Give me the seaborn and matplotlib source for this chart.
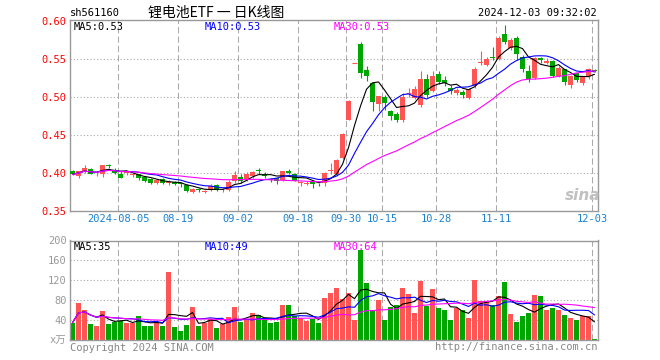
import numpy as np
import pandas as pd
import matplotlib.pyplot as plt
import seaborn as sns

# trading days 2024-07-24 .. 2024-12-03 (market holidays removed)
holidays = ['2024-09-16', '2024-09-17', '2024-10-01', '2024-10-02',
            '2024-10-03', '2024-10-04', '2024-10-07']
dates = pd.bdate_range('2024-07-24', '2024-12-03')
dates = dates[~dates.isin(pd.to_datetime(holidays))]

open_ = [0.402, 0.396, 0.401, 0.405, 0.398, 0.399, 0.410, 0.403, 0.399, 0.400,
         0.397, 0.398, 0.395, 0.392, 0.387, 0.392, 0.387, 0.388, 0.387, 0.384,
         0.375, 0.379, 0.375, 0.377, 0.384, 0.377, 0.378, 0.389, 0.395, 0.391,
         0.396, 0.404, 0.399, 0.392, 0.393, 0.391, 0.402, 0.399, 0.387, 0.386,
         0.389, 0.386, 0.387, 0.402, 0.399, 0.419, 0.470, 0.545, 0.569, 0.535,
         0.518, 0.490, 0.500, 0.481, 0.478, 0.469, 0.505, 0.499, 0.489, 0.524,
         0.508, 0.530, 0.522, 0.512, 0.505, 0.507, 0.498, 0.514, 0.545, 0.542,
         0.552, 0.550, 0.583, 0.564, 0.578, 0.553, 0.534, 0.525, 0.551, 0.545,
         0.547, 0.528, 0.536, 0.515, 0.531, 0.518, 0.527, 0.535]
high = [0.404, 0.403, 0.411, 0.406, 0.401, 0.411, 0.412, 0.406, 0.403, 0.402,
        0.400, 0.399, 0.396, 0.393, 0.392, 0.393, 0.391, 0.389, 0.388, 0.385,
        0.380, 0.380, 0.377, 0.386, 0.385, 0.380, 0.391, 0.402, 0.398, 0.401,
        0.402, 0.407, 0.401, 0.393, 0.394, 0.403, 0.405, 0.400, 0.389, 0.390,
        0.391, 0.387, 0.401, 0.413, 0.418, 0.453, 0.496, 0.545, 0.572, 0.540,
        0.520, 0.501, 0.502, 0.483, 0.480, 0.505, 0.512, 0.514, 0.534, 0.530,
        0.534, 0.534, 0.527, 0.515, 0.512, 0.509, 0.511, 0.539, 0.560, 0.552,
        0.566, 0.580, 0.594, 0.577, 0.580, 0.555, 0.542, 0.553, 0.552, 0.551,
        0.548, 0.540, 0.537, 0.529, 0.532, 0.528, 0.538, 0.536]
low = [0.397, 0.394, 0.400, 0.398, 0.396, 0.395, 0.406, 0.398, 0.393, 0.397,
       0.395, 0.391, 0.388, 0.386, 0.385, 0.385, 0.384, 0.384, 0.382, 0.375,
       0.373, 0.375, 0.374, 0.376, 0.376, 0.375, 0.376, 0.387, 0.387, 0.389,
       0.393, 0.399, 0.394, 0.388, 0.385, 0.389, 0.399, 0.389, 0.383, 0.384,
       0.380, 0.383, 0.383, 0.399, 0.397, 0.418, 0.469, 0.545, 0.525, 0.521,
       0.482, 0.482, 0.483, 0.469, 0.467, 0.467, 0.500, 0.497, 0.487, 0.500,
       0.506, 0.517, 0.514, 0.504, 0.502, 0.499, 0.497, 0.512, 0.542, 0.540,
       0.548, 0.549, 0.570, 0.561, 0.548, 0.533, 0.520, 0.523, 0.544, 0.543,
       0.526, 0.526, 0.515, 0.511, 0.520, 0.515, 0.524, 0.533]
close = [0.398, 0.402, 0.407, 0.399, 0.3985, 0.410, 0.409, 0.400, 0.394, 0.401,
         0.398, 0.394, 0.390, 0.387, 0.391, 0.387, 0.388, 0.386, 0.385, 0.376,
         0.379, 0.377, 0.376, 0.383, 0.378, 0.378, 0.388, 0.397, 0.390, 0.398,
         0.401, 0.403, 0.396, 0.391, 0.389, 0.402, 0.400, 0.390, 0.388, 0.387,
         0.386, 0.385, 0.400, 0.404, 0.417, 0.451, 0.495, 0.545, 0.532, 0.527,
         0.493, 0.501, 0.492, 0.475, 0.469, 0.500, 0.505, 0.510, 0.524, 0.503,
         0.528, 0.520, 0.518, 0.508, 0.509, 0.502, 0.510, 0.537, 0.546, 0.550,
         0.551, 0.578, 0.572, 0.575, 0.556, 0.536, 0.523, 0.551, 0.548, 0.547,
         0.528, 0.538, 0.519, 0.528, 0.522, 0.527, 0.537, 0.534]
# volume in 万手
volume = [35, 74, 60, 32, 28, 58, 32, 37, 38, 34,
          35, 48, 28, 28, 37, 28, 136, 26, 18, 30,
          66, 28, 34, 42, 24, 32, 46, 66, 36, 42,
          54, 51, 40, 34, 36, 70, 70, 48, 44, 38,
          43, 34, 84, 94, 105, 82, 94, 40, 180, 114,
          60, 80, 40, 66, 70, 105, 92, 54, 118, 68,
          102, 64, 60, 40, 64, 60, 44, 120, 78, 77,
          70, 88, 116, 52, 36, 48, 54, 90, 88, 60,
          64, 60, 50, 44, 40, 48, 48, 2]

tick_dates = ['2024-08-05', '2024-08-19', '2024-09-02', '2024-09-18', '2024-09-30',
              '2024-10-15', '2024-10-28', '2024-11-11', '2024-12-03']
tick_labels = ['2024-08-05', '08-19', '09-02', '09-18', '09-30',
               '10-15', '10-28', '11-11', '12-03']
price_ma_text = ['MA5:0.53', 'MA10:0.53', 'MA30:0.53']
vol_ma_text = ['MA5:35', 'MA10:49', 'MA30:64']

RED = '#ff5555'
GREEN = '#00a600'
GRID = '#aaaaaa'
MA_COLORS = ['black', 'blue', '#ff00ff']

df = pd.DataFrame({'date': dates, 'open': open_, 'high': high, 'low': low,
                   'close': close, 'vol': volume})
df['i'] = np.arange(len(df))
df['dir'] = np.where(df['close'] >= df['open'], 'up', 'down')
for n in (5, 10, 30):
    df[f'ma{n}'] = df['close'].rolling(n, min_periods=1).mean()
    df[f'vma{n}'] = df['vol'].rolling(n, min_periods=1).mean()

sns.set_theme(style='white')
plt.rcParams['font.family'] = ['DejaVu Sans Mono', 'Noto Sans CJK SC']

W, H = 660, 360
fig = plt.figure(figsize=(6.6, 3.6), dpi=100)
ax = fig.add_axes([70 / W, 149 / H, 528 / W, 191 / H])
ax2 = fig.add_axes([70 / W, 20 / H, 528 / W, 99.5 / H])

# candles
colors = df['dir'].map({'up': RED, 'down': GREEN})
ax.vlines(df['i'], df['low'], df['high'], colors=colors, lw=0.8, zorder=2)
ax.bar(df['i'], (df['close'] - df['open']).abs(),
       bottom=df[['open', 'close']].min(axis=1), width=0.8,
       color=colors, linewidth=0, zorder=3)
flat = df[df['open'] == df['close']]
ax.hlines(flat['close'], flat['i'] - 0.4, flat['i'] + 0.4,
          colors=flat['dir'].map({'up': RED, 'down': GREEN}), lw=0.8, zorder=3)
for n, c in zip((5, 10, 30), MA_COLORS):
    sns.lineplot(x=df['i'], y=df[f'ma{n}'], ax=ax, color=c, lw=0.8, zorder=4)

# volume
sns.barplot(data=df, x='i', y='vol', hue='dir', palette={'up': RED, 'down': GREEN},
            dodge=False, width=0.8, saturation=1, legend=False, linewidth=0,
            ax=ax2, zorder=2)
for n, c in zip((5, 10, 30), MA_COLORS):
    sns.lineplot(x=df['i'], y=df[f'vma{n}'], ax=ax2, color=c, lw=0.8, zorder=4)

tick_pos = [df.index[df['date'] == pd.Timestamp(d)][0] - 0.35 for d in tick_dates]

for a in (ax, ax2):
    a.set_xlim(-0.42, 87.58)
    a.set_xlabel('')
    a.set_ylabel('')
    for p in tick_pos:
        a.axvline(p, color=GRID, lw=0.75, ls=(0, (6, 3)), zorder=1)
    for s in a.spines.values():
        s.set_color('#999999')
        s.set_linewidth(1)
    a.tick_params(length=0, pad=2.5)

ax.set_ylim(0.35, 0.601)
ax.set_yticks([0.35, 0.40, 0.45, 0.50, 0.55, 0.60])
ax.set_yticklabels(['0.35', '0.40', '0.45', '0.50', '0.55', '0.60'], color='red', fontsize=7.5)
for y in (0.40, 0.45, 0.50, 0.55):
    ax.axhline(y, color=GRID, lw=0.8, ls=(0, (1, 2)), zorder=1)
ax.set_xticks(tick_pos)
ax.set_xticklabels(tick_labels, color='#1a80d0', fontsize=7.5)

ax2.set_ylim(0, 200)
ax2.set_yticks([0, 40, 80, 120, 160, 200])
ax2.set_yticklabels(['x万', '40', '80', '120', '160', '200'], color='#999999', fontsize=7.5)
for y in (40, 80, 120, 160):
    ax2.axhline(y, color=GRID, lw=0.8, ls=(0, (1, 2)), zorder=1)
ax2.set_xticks([])

def px_text(x, y, s, **kw):
    fig.text(x / W, 1 - y / H, s, va='center', **kw)

px_text(70, 13, 'sh561160', fontsize=7.5, color='black')
px_text(216, 13, '锂电池ETF 一 日K线图', fontsize=10, color='black', ha='center',
        family=['Noto Sans CJK SC', 'DejaVu Sans'])
px_text(597, 13, '2024-12-03 09:32:02', fontsize=7.5, color='black', ha='right')
for x, s, c in zip((74, 205, 334), price_ma_text, MA_COLORS):
    px_text(x, 27, s, fontsize=7.5, color=c)
for x, s, c in zip((74, 205, 334), vol_ma_text, MA_COLORS):
    px_text(x, 247, s, fontsize=7.5, color=c)
px_text(70, 348, 'Copyright 2024 SINA.COM', fontsize=7.5, color='#888888')
px_text(597, 347, 'http://finance.sina.com.cn', fontsize=7.5, color='#888888', ha='right')
px_text(583, 196, 'sina', fontsize=11, color='#c0c0c0', ha='center',
        style='italic', weight='bold', family='DejaVu Sans')

fig.savefig('out.png', dpi=100)
